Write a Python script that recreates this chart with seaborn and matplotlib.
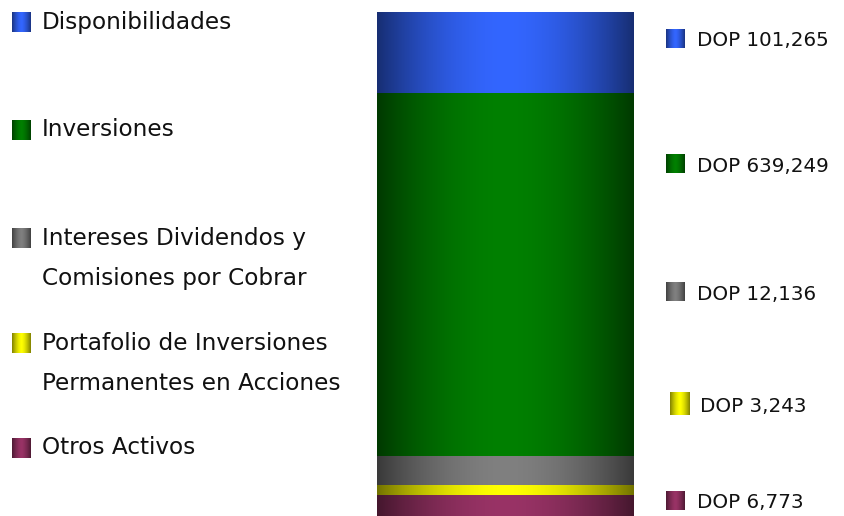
import matplotlib
matplotlib.use('Agg')
import matplotlib.pyplot as plt
import matplotlib.colors as mcolors
import seaborn as sns
import numpy as np
import pandas as pd

# data, top segment first
categories = ['Disponibilidades', 'Inversiones',
              'Intereses Dividendos y\nComisiones por Cobrar',
              'Portafolio de Inversiones\nPermanentes en Acciones',
              'Otros Activos']
values = [101265, 639249, 12136, 3243, 6773]
# share of bar height as drawn in the original (not proportional to values)
shown_share = [16.1, 72.0, 5.7, 2.0, 4.2]
colors = ['#3366FF', '#008000', '#808080', '#FFFF00', '#993366']

sns.set_theme(style='white')
plt.rcParams['font.family'] = ['DejaVu Sans']

W, H = 844, 516
fig = plt.figure(figsize=(W / 100, H / 100), dpi=100)


def gradient(color, n=256, edge=0.45, p=1.8):
    c = np.array(mcolors.to_rgb(color))
    t = np.linspace(-1, 1, n)
    f = 1 - (1 - edge) * np.abs(t) ** p
    return (c[None, :] * f[:, None])[None, :, :]


# stacked bar: draw cumulative tops, tallest first, so each covers the rest
ax = fig.add_axes([377 / W, 0, 257 / W, 504 / H])
df = pd.DataFrame({'cat': categories, 'share': shown_share, 'color': colors})
df['top'] = df['share'][::-1].cumsum()[::-1]
for i, row in df.iterrows():
    sns.barplot(x=[0], y=[row['top']], color=row['color'], width=0.8,
                saturation=1, ax=ax, zorder=2 + i)
for i, patch in enumerate(ax.patches):
    x0, y0 = patch.get_x(), patch.get_y()
    img = ax.imshow(gradient(df['color'][i]), aspect='auto', interpolation='bilinear',
                    extent=[x0, x0 + patch.get_width(), y0, y0 + patch.get_height()],
                    zorder=2.5 + i)
    img.set_clip_path(patch)
    patch.set_edgecolor('none')
ax.set_xlim(-0.4, 0.4)
ax.set_ylim(0, sum(shown_share))
ax.axis('off')

# legend and value labels in pixel coords
ov = fig.add_axes([0, 0, 1, 1], zorder=-1)
ov.axis('off')

left_y = [22, 130, 238, 343, 448]
right_y = [39, 164, 292, 404, 501]
right_x = [666, 666, 666, 670, 666]
sq_w = [19, 19, 19, 20, 19]
sq_h = [19, 19, 19, 23, 19]
for i, cat in enumerate(categories):
    g = gradient(colors[i], edge=0.5, p=1.5)
    w, h = sq_w[i], sq_h[i]
    ov.imshow(g, aspect='auto', extent=[12, 31, left_y[i] + 10, left_y[i] - 10])
    for k, line in enumerate(cat.split('\n')):
        ov.text(42, left_y[i] + k * 41, line, fontsize=16.7, va='center', color='#111111')
    rx = right_x[i]
    ov.imshow(g, aspect='auto', extent=[rx, rx + w, right_y[i] + h / 2, right_y[i] - h / 2])
    ov.text(697 if i != 3 else 700, right_y[i] + 2, f'DOP {values[i]:,}', fontsize=14.3,
            va='center', color='#111111')
ov.set_xlim(0, W)
ov.set_ylim(H, 0)

fig.savefig('out.png', dpi=100)
